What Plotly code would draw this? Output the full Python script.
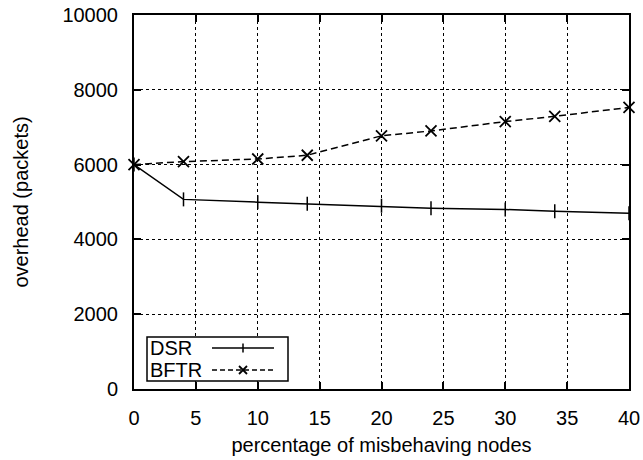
import plotly.graph_objects as go

pct = [0, 4, 10, 14, 20, 24, 30, 34, 40]
dsr = [6000, 5070, 4995, 4950, 4900, 4835, 4800, 4750, 4700]
bftr = [6000, 6080, 6150, 6250, 6770, 6900, 7150, 7290, 7530]
x_ticks = [0, 5, 10, 15, 20, 25, 30, 35, 40]
y_ticks = [0, 2000, 4000, 6000, 8000, 10000]
y_tick_text = ["0", "2000", "4000", "6000", "8000", "10000"]

FONT = "Liberation Sans, Arial, sans-serif"
FS = 20
W, H = 643, 460
L, R, T, B = 134, 14, 15, 71
PW, PH = W - L - R, H - T - B

def px(x):
    return (x - L) / PW

def py(y):
    return (H - B - y) / PH

fig = go.Figure()
fig.add_trace(go.Scatter(x=pct, y=dsr, mode="lines+markers", name="DSR",
                         line=dict(color="black", width=1.5),
                         marker=dict(symbol="line-ns", size=10,
                                     line=dict(color="black", width=1.5)),
                         showlegend=False, cliponaxis=False))
fig.add_trace(go.Scatter(x=pct, y=bftr, mode="lines+markers", name="BFTR",
                         line=dict(color="black", width=1.5, dash="7px,4px"),
                         marker=dict(symbol="x-thin", size=11,
                                     line=dict(color="black", width=1.8)),
                         showlegend=False, cliponaxis=False))

axis_common = dict(showline=True, linecolor="black", linewidth=2, mirror="ticks",
                   ticks="inside", ticklen=7, tickwidth=2, tickcolor="black",
                   showgrid=True, gridcolor="black", gridwidth=1, griddash="dot",
                   zeroline=False, automargin=False,
                   tickfont=dict(family=FONT, size=FS, color="black"),
                   title_font=dict(family=FONT, size=FS, color="black"))

fig.update_xaxes(range=[0, 40], tickvals=x_ticks,
                 title_text="percentage of misbehaving nodes", title_standoff=10,
                 ticklabelstandoff=10, **axis_common)
fig.update_yaxes(range=[0, 10000], tickvals=y_ticks, ticktext=y_tick_text,
                 title_text="overhead (packets)", title_standoff=28,
                 ticklabelstandoff=10, **axis_common)

# gnuplot-style legend (text left, sample right)
shapes = []
shapes.append(dict(type="rect", xref="paper", yref="paper",
                   x0=px(147), x1=px(288), y0=py(381), y1=py(337),
                   line=dict(color="black", width=1.5), fillcolor="white"))
# DSR sample
shapes.append(dict(type="line", xref="paper", yref="paper",
                   x0=px(212), x1=px(274), y0=py(348), y1=py(348),
                   line=dict(color="black", width=1.5)))
shapes.append(dict(type="line", xref="paper", yref="paper",
                   x0=px(243), x1=px(243), y0=py(343.5), y1=py(352.5),
                   line=dict(color="black", width=1.5)))
# BFTR sample
shapes.append(dict(type="line", xref="paper", yref="paper",
                   x0=px(212), x1=px(274), y0=py(370), y1=py(370),
                   line=dict(color="black", width=1.5, dash="5px,3px")))
for d in (1, -1):
    shapes.append(dict(type="line", xref="paper", yref="paper",
                       x0=px(239), x1=px(247), y0=py(370 - 4 * d), y1=py(370 + 4 * d),
                       line=dict(color="black", width=1.8)))

annotations = [
    dict(text="DSR", xref="paper", yref="paper", x=px(148), y=py(348),
         xanchor="left", yanchor="middle", showarrow=False,
         font=dict(family=FONT, size=FS, color="black")),
    dict(text="BFTR", xref="paper", yref="paper", x=px(148), y=py(370),
         xanchor="left", yanchor="middle", showarrow=False,
         font=dict(family=FONT, size=FS, color="black")),
]

fig.update_layout(width=W, height=H, margin=dict(l=L, r=R, t=T, b=B, autoexpand=False),
                  paper_bgcolor="white", plot_bgcolor="white",
                  shapes=shapes, annotations=annotations)

fig.write_html("out.html")
